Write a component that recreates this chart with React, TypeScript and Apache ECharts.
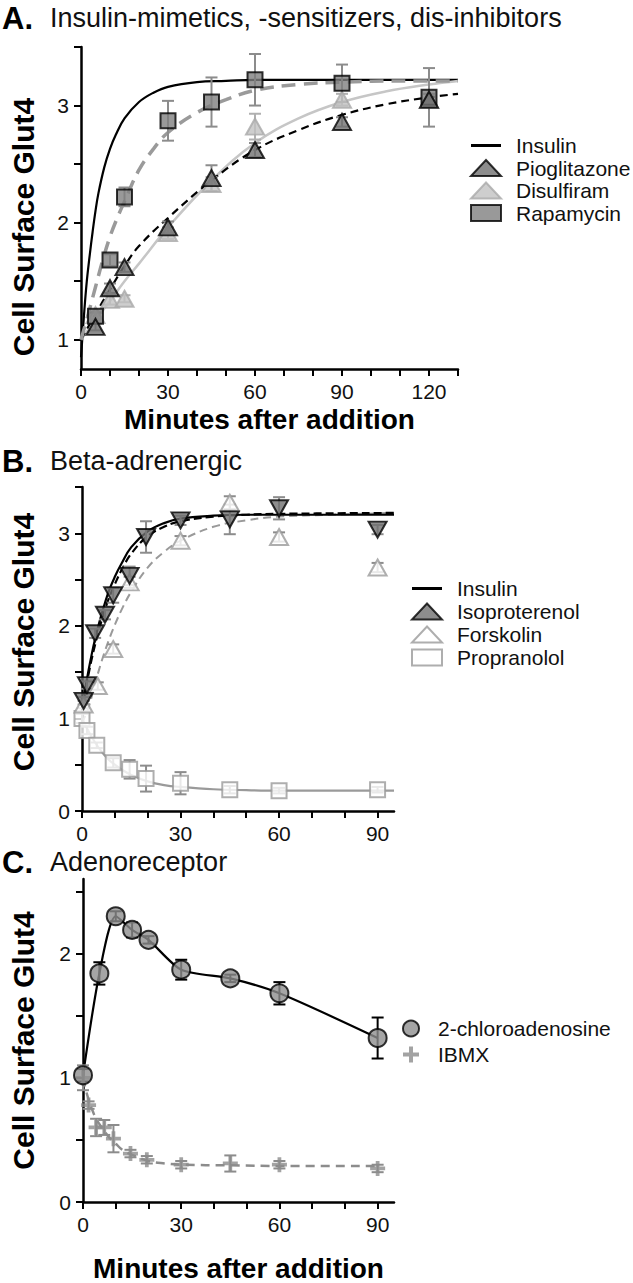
import React, { useEffect, useRef } from 'react';
import * as echarts from 'echarts';

// ---------- Panel A: Insulin-mimetics, -sensitizers, dis-inhibitors ----------
const A_TIMES = [5, 10, 15, 30, 45, 60, 90, 120];
const PIOGLITAZONE = [1.11, 1.44, 1.62, 1.96, 2.38, 2.62, 2.86, 3.05];
const PIOGLITAZONE_ERR = [0.03, 0.04, 0.04, 0.05, 0.11, 0.06, 0.04, 0.05];
const DISULFIRAM = [1.21, 1.34, 1.35, 1.91, 2.33, 2.82, 3.05, 3.05];
const DISULFIRAM_ERR = [0.03, 0.04, 0.03, 0.05, 0.06, 0.11, 0.05, 0.05];
const RAPAMYCIN = [1.2, 1.68, 2.22, 2.87, 3.03, 3.22, 3.19, 3.07];
const RAPAMYCIN_ERR = [0.03, 0.05, 0.08, 0.17, 0.21, 0.22, 0.16, 0.25];

const A_INSULIN_FIT_T = [0, 1, 2, 3, 4, 5, 6, 8, 10, 12, 15, 20, 25, 30, 40, 50, 60, 90, 130];
const A_INSULIN_FIT = [0.85, 1.2, 1.5, 1.72, 1.92, 2.1, 2.25, 2.47, 2.63, 2.75, 2.89, 3.03, 3.11, 3.16, 3.2, 3.21, 3.22, 3.22, 3.22];
const RAPAMYCIN_FIT_T = [0, 2.5, 5, 7.5, 10, 12.5, 15, 20, 25, 30, 40, 50, 60, 75, 90, 110, 130];
const RAPAMYCIN_FIT = [1.0, 1.22, 1.45, 1.68, 1.88, 2.04, 2.18, 2.45, 2.63, 2.77, 2.94, 3.05, 3.13, 3.18, 3.2, 3.21, 3.21];
const PIOGLITAZONE_FIT_T = [0, 5, 10, 15, 20, 30, 45, 60, 75, 90, 105, 120, 130];
const PIOGLITAZONE_FIT = [1.0, 1.22, 1.43, 1.63, 1.8, 2.04, 2.36, 2.62, 2.79, 2.92, 3.01, 3.07, 3.1];
const DISULFIRAM_FIT_T = [0, 5, 10, 15, 20, 30, 45, 60, 75, 90, 105, 120, 130];
const DISULFIRAM_FIT = [1.0, 1.17, 1.33, 1.5, 1.65, 1.96, 2.36, 2.68, 2.89, 3.03, 3.12, 3.18, 3.21];

const A_X_TICKS = [0, 10, 20, 30, 40, 50, 60, 70, 80, 90, 100, 110, 120, 130];
const A_X_LABELS = [0, 30, 60, 90, 120];
const A_Y_TICKS = [1, 1.5, 2, 2.5, 3, 3.5];
const A_Y_LABELS = [1, 2, 3];

// ---------- Panel B: Beta-adrenergic ----------
const ISO_TIMES = [0.5, 1.5, 4, 7, 9.5, 14.5, 19.5, 30, 45, 60, 90];
const ISOPROTERENOL = [1.19, 1.36, 1.92, 2.12, 2.33, 2.54, 2.96, 3.14, 3.15, 3.27, 3.04];
const ISOPROTERENOL_ERR = [0.04, 0.04, 0.05, 0.05, 0.08, 0.1, 0.17, 0.05, 0.16, 0.12, 0.05];
const FSK_TIMES = [0.5, 4.8, 9.5, 14.5, 30, 45, 60, 90];
const FORSKOLIN = [1.15, 1.35, 1.75, 2.47, 2.92, 3.33, 2.96, 2.63];
const FORSKOLIN_ERR = [0.04, 0.04, 0.05, 0.06, 0.05, 0.07, 0.05, 0.05];
const PROP_TIMES = [0, 1.5, 4.5, 9.5, 14.5, 19.5, 30, 45, 60, 90];
const PROPRANOLOL = [1.0, 0.87, 0.71, 0.52, 0.45, 0.35, 0.3, 0.23, 0.22, 0.23];
const PROPRANOLOL_ERR = [0.05, 0.04, 0.03, 0.05, 0.1, 0.14, 0.12, 0.04, 0.03, 0.03];

const B_FIT_T = [0, 1, 2, 3, 4, 5, 6, 8, 10, 12, 15, 20, 25, 30, 40, 50, 60, 95];
const B_INSULIN_FIT = [1.1, 1.32, 1.52, 1.7, 1.86, 2.0, 2.13, 2.36, 2.53, 2.67, 2.85, 3.02, 3.11, 3.16, 3.19, 3.2, 3.2, 3.2];
const ISOPROTERENOL_FIT = [1.08, 1.3, 1.48, 1.65, 1.8, 1.94, 2.06, 2.28, 2.45, 2.6, 2.78, 2.97, 3.07, 3.13, 3.18, 3.2, 3.21, 3.22];
const FORSKOLIN_FIT_T = [0, 2, 4, 6, 8, 10, 12, 15, 20, 25, 30, 40, 50, 60, 75, 95];
const FORSKOLIN_FIT = [0.95, 1.12, 1.38, 1.62, 1.83, 2.01, 2.17, 2.37, 2.63, 2.8, 2.92, 3.07, 3.14, 3.18, 3.2, 3.22];
const PROPRANOLOL_FIT_T = [0, 2, 4, 6, 8, 10, 12, 15, 20, 25, 30, 40, 50, 60, 95];
const PROPRANOLOL_FIT = [1.0, 0.86, 0.74, 0.64, 0.56, 0.5, 0.45, 0.39, 0.32, 0.28, 0.26, 0.235, 0.225, 0.22, 0.22];

const BC_X_TICKS = [0, 10, 20, 30, 40, 50, 60, 70, 80, 90];
const BC_X_LABELS = [0, 30, 60, 90];
const B_Y_TICKS = [0, 0.5, 1, 1.5, 2, 2.5, 3, 3.5];
const B_Y_LABELS = [0, 1, 2, 3];

// ---------- Panel C: Adenoreceptor ----------
const CADO_TIMES = [0, 5, 10, 15, 20, 30, 45, 60, 90];
const CHLOROADENOSINE = [1.02, 1.84, 2.3, 2.19, 2.11, 1.87, 1.8, 1.68, 1.32];
const CHLOROADENOSINE_ERR = [0.05, 0.09, 0.04, 0.06, 0.03, 0.08, 0.03, 0.09, 0.165];
const IBMX_TIMES = [0, 1.7, 4, 6.5, 9.3, 14.5, 19.5, 30, 45, 60, 90];
const IBMX = [1.0, 0.78, 0.6, 0.6, 0.51, 0.39, 0.34, 0.3, 0.31, 0.3, 0.27];
const IBMX_ERR = [0.1, 0.03, 0.07, 0.06, 0.11, 0.03, 0.03, 0.03, 0.065, 0.03, 0.03];
const IBMX_FIT_T = [0, 1, 2, 3, 4, 6, 8, 10, 12, 15, 20, 25, 30, 45, 60, 90];
const IBMX_FIT = [1.0, 0.89, 0.8, 0.73, 0.67, 0.59, 0.52, 0.47, 0.42, 0.38, 0.33, 0.31, 0.3, 0.295, 0.29, 0.29];

const C_Y_TICKS = [0, 0.5, 1, 1.5, 2, 2.5];
const C_Y_LABELS = [0, 1, 2];

// ---------- styling ----------
const FONT = 'Liberation Sans, Arial, Helvetica, sans-serif';
const PLUS = 'path://M3,0H5V3H8V5H5V8H3V5H0V3H3Z';
const LINE_ICON = 'path://M0,0H30V3H0Z';

const pts = (t: number[], v: number[]) => t.map((x, i) => [x, v[i]]);

function curve(idx: number, t: number[], v: number[], color: string, width: number, dash: any, name?: string, smooth: any = 0.4) {
  return {
    type: 'line', name: name ?? undefined, xAxisIndex: idx, yAxisIndex: idx,
    data: pts(t, v), smooth, symbol: 'none', showSymbol: false,
    lineStyle: { color, width, type: dash, cap: 'butt' }, itemStyle: { color }, z: 2, silent: true,
  };
}

function errorBars(idx: number, t: number[], v: number[], e: number[], color: string, capHalf = 6) {
  return {
    type: 'custom', xAxisIndex: idx, yAxisIndex: idx, silent: true, z: 3, clip: false,
    data: t.map((x, i) => [x, v[i] - e[i], v[i] + e[i]]),
    encode: { x: 0, y: [1, 2] },
    renderItem: (_p: any, api: any) => {
      const lo = api.coord([api.value(0), api.value(1)]);
      const hi = api.coord([api.value(0), api.value(2)]);
      const style = { stroke: color, lineWidth: 2 };
      return {
        type: 'group', children: [
          { type: 'line', shape: { x1: lo[0], y1: lo[1], x2: hi[0], y2: hi[1] }, style },
          { type: 'line', shape: { x1: lo[0] - capHalf, y1: lo[1], x2: lo[0] + capHalf, y2: lo[1] }, style },
          { type: 'line', shape: { x1: hi[0] - capHalf, y1: hi[1], x2: hi[0] + capHalf, y2: hi[1] }, style },
        ],
      };
    },
  };
}

function scatter(idx: number, name: string, t: number[], v: number[], symbol: string, size: any, itemStyle: any, extra: any = {}) {
  return {
    type: 'scatter', name, xAxisIndex: idx, yAxisIndex: idx, data: pts(t, v),
    symbol, symbolSize: size, itemStyle, z: 5, silent: true, ...extra,
  };
}

function xAxis(idx: number, max: number, ticks: number[], labels: number[], name: string, nameGap: number) {
  return {
    type: 'value', gridIndex: idx, min: 0, max,
    axisLine: { show: true, onZero: false, lineStyle: { color: '#000', width: 2.5 } },
    axisTick: { show: true, length: 7, lineStyle: { color: '#000', width: 2 }, customValues: ticks },
    axisLabel: { customValues: labels, fontSize: 21, color: '#111', margin: 12, fontFamily: FONT },
    splitLine: { show: false },
    name, nameLocation: 'middle', nameGap,
    nameTextStyle: { fontSize: 28, fontWeight: 'bold', color: '#000', fontFamily: FONT },
  };
}

function yAxis(idx: number, min: number, max: number, ticks: number[], labels: number[], nameGap: number, namePad: number[]) {
  return {
    type: 'value', gridIndex: idx, min, max,
    axisLine: { show: true, onZero: false, lineStyle: { color: '#000', width: 2.5 } },
    axisTick: { show: true, length: 7, lineStyle: { color: '#000', width: 2 }, customValues: ticks },
    axisLabel: { customValues: labels, fontSize: 21, color: '#111', margin: 12, fontFamily: FONT },
    splitLine: { show: false },
    name: 'Cell Surface Glut4', nameLocation: 'middle', nameGap, nameRotate: 90,
    nameTextStyle: { fontSize: 30, fontWeight: 'bold', color: '#000', fontFamily: FONT, padding: namePad },
  };
}

function legend(data: any[], left: number, top: number, gap: number, pad: number) {
  return {
    data, left, top, orient: 'vertical', padding: 0, itemGap: gap,
    itemWidth: 30, itemHeight: 16, selectedMode: false,
    textStyle: { fontSize: 21, color: '#111', fontFamily: FONT, padding: [0, 0, 0, pad] },
  };
}

const DARK = { color: '#707070', borderColor: '#000', borderWidth: 2 };
const LIGHT = { color: '#c2c2c2', borderColor: '#a9a9a9', borderWidth: 2 };
const SQUARE = { color: '#808080', borderColor: '#000', borderWidth: 2 };
const OPEN = { color: '#ffffff', borderColor: '#9a9a9a', borderWidth: 2 };
const ERR_GRAY = '#8c8c8c';

const option: any = {
  animation: false,
  backgroundColor: '#fff',
  textStyle: { fontFamily: FONT },
  graphic: [
    { type: 'text', x: 2, y: 18, style: { text: 'A.', font: `bold 31px ${FONT}`, fill: '#000', verticalAlign: 'middle' } },
    { type: 'text', x: 50, y: 18, style: { text: 'Insulin-mimetics, -sensitizers, dis-inhibitors', font: `27px ${FONT}`, fill: '#111', verticalAlign: 'middle' } },
    { type: 'text', x: 2, y: 461, style: { text: 'B.', font: `bold 31px ${FONT}`, fill: '#000', verticalAlign: 'middle' } },
    { type: 'text', x: 50, y: 461, style: { text: 'Beta-adrenergic', font: `27px ${FONT}`, fill: '#111', verticalAlign: 'middle' } },
    { type: 'text', x: 2, y: 862, style: { text: 'C.', font: `bold 31px ${FONT}`, fill: '#000', verticalAlign: 'middle' } },
    { type: 'text', x: 50, y: 862, style: { text: 'Adenoreceptor', font: `27px ${FONT}`, fill: '#111', verticalAlign: 'middle' } },
  ],
  grid: [
    { left: 70, top: 47, width: 388, height: 322 },
    { left: 71, top: 487, width: 323, height: 324 },
    { left: 71, top: 879, width: 323, height: 324 },
  ],
  xAxis: [
    xAxis(0, 130, A_X_TICKS, A_X_LABELS, 'Minutes after addition', 36),
    xAxis(1, 95, BC_X_TICKS, BC_X_LABELS, '', 30),
    xAxis(2, 95, BC_X_TICKS, BC_X_LABELS, 'Minutes after addition', 52),
  ],
  yAxis: [
    yAxis(0, 0.75, 3.5, A_Y_TICKS, A_Y_LABELS, 43, [0, 38, 0, 0]),
    yAxis(1, 0, 3.5, B_Y_TICKS, B_Y_LABELS, 44, [0, 0, 0, 14]),
    yAxis(2, 0, 2.6, C_Y_TICKS, C_Y_LABELS, 45, [0, 0, 0, 0]),
  ],
  legend: [
    legend([{ name: 'Insulin', icon: LINE_ICON }, 'Pioglitazone', 'Disulfiram', 'Rapamycin'], 470, 135, 1.5, 10),
    legend([{ name: 'Insulin', icon: LINE_ICON }, 'Isoproterenol', 'Forskolin', 'Propranolol'], 411, 578, 2, 10),
    legend(['2-chloroadenosine', 'IBMX'], 402, 1018, 5, 7),
  ],
  series: [
    // Panel A
    curve(0, A_INSULIN_FIT_T, A_INSULIN_FIT, '#000', 2.2, 'solid', 'Insulin'),
    curve(0, DISULFIRAM_FIT_T, DISULFIRAM_FIT, '#c6c6c6', 2.5, 'solid'),
    curve(0, PIOGLITAZONE_FIT_T, PIOGLITAZONE_FIT, '#000', 2.2, [8, 5]),
    curve(0, RAPAMYCIN_FIT_T, RAPAMYCIN_FIT, '#9a9a9a', 3.5, [14, 8]),
    errorBars(0, A_TIMES, DISULFIRAM, DISULFIRAM_ERR, '#b0b0b0'),
    errorBars(0, A_TIMES, RAPAMYCIN, RAPAMYCIN_ERR, ERR_GRAY),
    errorBars(0, A_TIMES, PIOGLITAZONE, PIOGLITAZONE_ERR, ERR_GRAY),
    scatter(0, 'Disulfiram', A_TIMES, DISULFIRAM, 'triangle', [18, 16], LIGHT),
    scatter(0, 'Rapamycin', A_TIMES, RAPAMYCIN, 'rect', 15, SQUARE),
    scatter(0, 'Pioglitazone', A_TIMES, PIOGLITAZONE, 'triangle', [18, 16], DARK),
    // Panel B
    curve(1, PROPRANOLOL_FIT_T, PROPRANOLOL_FIT, '#9a9a9a', 2.2, 'solid'),
    curve(1, FORSKOLIN_FIT_T, FORSKOLIN_FIT, '#9a9a9a', 2, [8, 5]),
    curve(1, B_FIT_T, ISOPROTERENOL_FIT, '#000', 2.2, [8, 4]),
    curve(1, B_FIT_T, B_INSULIN_FIT, '#000', 2.2, 'solid', 'Insulin'),
    errorBars(1, PROP_TIMES, PROPRANOLOL, PROPRANOLOL_ERR, ERR_GRAY),
    errorBars(1, FSK_TIMES, FORSKOLIN, FORSKOLIN_ERR, ERR_GRAY),
    errorBars(1, ISO_TIMES, ISOPROTERENOL, ISOPROTERENOL_ERR, ERR_GRAY),
    scatter(1, 'Propranolol', PROP_TIMES, PROPRANOLOL, 'rect', 15, OPEN),
    scatter(1, 'Forskolin', FSK_TIMES, FORSKOLIN, 'triangle', [18, 16], OPEN),
    scatter(1, 'Isoproterenol', ISO_TIMES, ISOPROTERENOL, 'triangle', [18, 16], DARK, { symbolRotate: 180 }),
    // Panel C
    curve(2, IBMX_FIT_T, IBMX_FIT, '#8c8c8c', 2.5, [9, 6]),
    curve(2, CADO_TIMES, CHLOROADENOSINE, '#000', 2.2, 'solid', undefined, 0.25),
    errorBars(2, IBMX_TIMES, IBMX, IBMX_ERR, ERR_GRAY),
    errorBars(2, CADO_TIMES, CHLOROADENOSINE, CHLOROADENOSINE_ERR, '#000'),
    scatter(2, 'IBMX', IBMX_TIMES, IBMX, PLUS, 15, { color: '#8c8c8c' }),
    scatter(2, '2-chloroadenosine', CADO_TIMES, CHLOROADENOSINE, 'circle', 18, { color: '#8e8e8e', borderColor: '#000', borderWidth: 2 }),
  ],
};

export default function App() {
  const ref = useRef<HTMLDivElement>(null);
  useEffect(() => {
    document.body.style.margin = '0';
    const chart = echarts.init(ref.current!, undefined, { renderer: 'svg' });
    chart.setOption(option);
    return () => chart.dispose();
  }, []);
  return (
    <div
      ref={ref}
      style={{ position: 'absolute', left: 0, top: 0, width: 633, height: 1283, background: '#fff' }}
    />
  );
}
